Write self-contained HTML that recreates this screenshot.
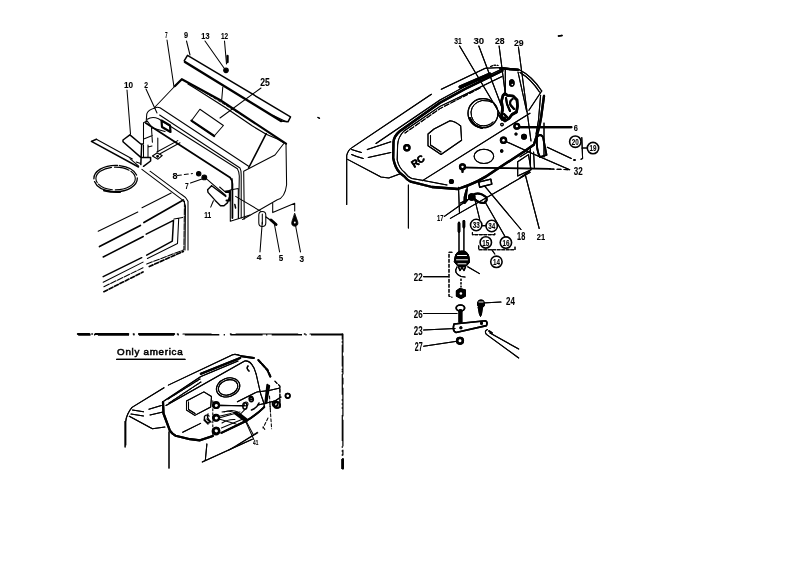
<!DOCTYPE html>
<html><head><meta charset="utf-8">
<style>
html,body{margin:0;padding:0;background:#fff;}
svg{display:block;will-change:transform;}
text{font-family:"Liberation Sans",sans-serif;font-weight:bold;font-size:9.5px;fill:#000;stroke:#000;stroke-width:0.1px;}
</style></head><body>
<svg width="793" height="561" viewBox="0 0 793 561">
<rect width="793" height="561" fill="#fff"/>
<g fill="none" stroke="#000" stroke-width="1.05" stroke-linecap="round" stroke-linejoin="round">
<!-- ===== TOP LEFT ===== -->
<!-- labels leaders -->
<path d="M167,40 L174,87 M186.5,41 L190,55 M205,41 L224,68 M224.5,41 L226.5,64 M127,90 L130.5,134 M146,89 L157,113 M261,88 L220,118 M222.8,87 L221.7,100 M190.5,183 L202,179 M260,252 L262.3,222 M279.6,252 L274,222 M300.5,252 L294.7,221"/>
<path d="M177.4,175.5 L192.4,173.5" stroke-dasharray="4,3"/>
<!-- strip 9 -->
<path d="M184.3,60.7 L187.5,55.3 L290.5,116.8 L288,121.8 L281,121" stroke-width="1.5"/>
<path d="M272.7,115.3 L286.3,121.7"/>
<path d="M185,62 L281,121" stroke-width="2.5"/>
<circle cx="226" cy="70.3" r="2.3" fill="#000"/>
<path d="M227.5,56 L227.5,62" stroke-width="2.4"/>
<!-- cover 7 top -->
<path d="M175,86 L155,107"/>
<path d="M175,86 L181.8,79.2 L220,100 L286,143.7" stroke-width="2.2"/>
<path d="M188,84 L195,88.3 L225.3,107.5 L252.1,125.8 L266.2,134.2 L277.4,139 L284,143" stroke-width="1.2"/>
<path d="M205,92.5 L255,123" stroke-dasharray="3,2" stroke-width="0.9"/>
<path d="M286,143.7 L286.6,184.8 Q285,198 277.3,199.8 L242.6,219.5"/>
<path d="M266.2,133.7 L248.6,168" stroke-width="1.6"/>
<path d="M283.6,143.7 L275,155 L243.7,171.2 L244.3,219"/>
<!-- plate 25 -->
<path d="M199.9,109.3 L191.4,120.7 L214.2,136 L223.4,125.5 Z"/>
<path d="M191.4,120.7 L214.2,136" stroke-width="2.2"/>
<!-- rim lines -->
<path d="M154.8,108 Q157,106.5 160,107.8 L248.6,166.2"/>
<path d="M159.6,115 L240,168 Q241.5,171 241.2,175 L241.2,218"/>
<path d="M147.3,119.3 Q152,116 158.5,118.7 L237.4,168.7 Q239.3,172 239.3,176 L238.5,218"/>
<path d="M145.7,123 L230,177.4 Q232.4,180 232.4,184 L232.4,218" stroke-width="1.8"/>
<!-- dark block -->
<path d="M161.5,120.5 L170,125.5 L170.5,132 L162,127 Z" stroke-width="2.2"/>
<!-- bracket 2/10 -->
<path d="M154.8,108 Q148,110 146.8,113.9 L146.2,121.4"/>
<path d="M143.5,122.7 L147.1,120.9 L152.4,128 L165,131.6 M143.5,122.7 L143.5,144 M151.5,128 L152.4,142.3 M144.4,138.7 L152.4,135.6"/>
<path d="M130.2,134.7 L123,140 L123,141.8 L140.8,157.4 L150.6,157.4 L150.6,161 L143.5,166.3 M130.2,135.2 L140.8,144 L142.6,144 M141.7,144 L140.8,164.6" stroke-width="1.5"/>
<path d="M143.5,145 L143.5,157.4 M148,145 L148,157.4 M157.8,138 L157.8,152 M148,147 L152,146"/>
<path d="M156.9,152 L177.8,140.6 M159.6,154 L180,142.8"/>
<path d="M152.4,156 L157,153 L162.2,155.5 L158,159.2 Z"/>
<circle cx="157.6" cy="156.3" r="0.9" fill="#000"/>
<!-- hood -->
<path d="M96.4,139.3 L132.4,159 M136.2,162 L139.9,163.3"/>
<path d="M91.4,141.4 L96.4,139.3 M91.4,141.4 L138.5,167" stroke-width="1.5"/>
<path d="M130,158.7 L138.7,166.2 M141.9,169.3 L182.4,199.9 Q185,202 185.5,206 L185,250"/>
<path d="M150,171.2 L181.2,194.3 Q186,197 188,201.2 L188,250"/>
<ellipse cx="115.6" cy="178.5" rx="21.7" ry="13.2" stroke-width="1.3" stroke-dasharray="30,2,20,3"/>
<ellipse cx="115.6" cy="178.5" rx="19.7" ry="11.4" stroke-width="1.1" stroke-dasharray="25,3,15,2"/>
<path d="M104,190.5 Q112,192.5 120,192" stroke-width="2"/>
<!-- hood front lines -->
<path d="M98.2,231.3 L137.8,212 M142,207.8 L171.2,193"/>
<path d="M99.5,246.5 L140.4,225.5 M143.9,222.6 L183.3,200" stroke-width="1.7"/>
<path d="M103.2,257 L143.3,236.5 M146.2,234.2 L173.5,220.3 L172.3,241.1 L146.7,255.2 M141.7,257.7 L103.2,276.6" stroke-width="1.5"/>
<path d="M174,219.1 L182.7,217.4 M178.7,218.5 L177.5,243.5 L147.4,258.5 M143,262.1 L103.2,282.3"/>
<path d="M103.9,286.7 L143,267.8 M146.7,264 L183.9,249.8 L184.5,200" stroke-dasharray="6,1.5"/>
<path d="M103.9,291.7 L143,272 M149.3,266.5 L183.3,251.4" stroke-width="1.7" stroke-dasharray="4,2"/>
<!-- nuts 8 7 -->
<circle cx="198.7" cy="173.7" r="2.2" fill="#000"/>
<circle cx="204.3" cy="177.4" r="2.4" fill="#000"/>
<path d="M206.2,178.6 L225.8,195.5 M235.6,196.4 L261,211.4"/>
<!-- part 11 -->
<path d="M211.6,185.7 L207.6,189.7 L208,192.4 L215.2,200.4 L220.5,205.7 L224,205.7 L227.6,202.6 L229.4,197.3 M211.6,185.7 L225.8,196.4" stroke-width="1.4"/>
<path d="M219.6,187 L225.8,192.4 L229.5,192.4"/>
<path d="M225.8,191.5 L229.8,191 L229.8,200.5 L226.5,200.5" stroke-width="2"/>
<path d="M210.7,207.1 L213.4,200.8"/>
<!-- bracket lower -->
<path d="M230.3,190.2 L230.3,221.3 L238.3,218.7 L250,215.1 M238.3,188.5 L238.3,218.7 M232.1,178.6 L232,190 M230,190 L238.3,188.5"/>
<path d="M234.8,204.4 L235.6,208" stroke-width="1.5"/>
<!-- clip 4 -->
<rect x="258.8" y="211.4" width="7" height="15" rx="3.5"/>
<path d="M262.3,214 L262.3,224"/>
<path d="M266,217 L276.5,224.5" stroke-width="1.3"/>
<path d="M271,220 L276,224.5" stroke-width="3"/>
<path d="M294.8,213.5 L297.8,222 Q298.5,226 294.8,226.2 Q291,226 291.8,222 Z" fill="#000" stroke-width="0.8"/>
<circle cx="294.8" cy="222.5" r="0.9" fill="#fff" stroke="none"/>
<path d="M272.7,203.3 L272.7,212.6 L294.7,203.3 L294.7,211"/>
<!-- ===== RIGHT PANEL ===== -->
<path d="M558.5,36 L562,35.5" stroke-width="1.5"/>
<path d="M318,117.5 L319.5,118.3" stroke-width="1.3"/>
<path d="M346.7,204.5 L346.7,155.5 Q348,150 352,147.6 L431.4,94.2 M441.3,89.2 L485.3,68.2 L502.4,67.6 L518.4,69.3 Q532,76 541.7,91"/>
<path d="M500,68.5 L518,69.8" stroke-width="2.2"/>
<path d="M520,72.5 Q531,79 539.5,92" />
<path d="M376,143.5 L440,100 L465,86.4 L502,69"/>
<path d="M490.6,66.5 Q494,64.5 498,65.5" stroke-dasharray="2,1.5"/>
<!-- panel face edge thick -->
<path d="M502.4,70.8 L465,89 L440,102.7 L400,131 Q394,136 393.5,142 L393.2,158 Q395,168 400,173 L404.3,176.4 Q407,180 410.7,181.7 L432,187 L457.8,189 Q478,183 494.6,170.8 L524.9,151 L533.8,144.8 Q539,130 541,118 L544,96" stroke-width="2.3"/>
<path d="M460,87 L490,74" stroke-width="3"/>
<path d="M502,76.5 L465,94.5 L440,106.4 L404,131 Q398,137 397.6,145 L397.2,160 Q399,168 404.3,172.1 Q408,177 411.8,178.5 L423.5,180.6 L447,185" />
<path d="M480,88 L440,108.6 L405,133" stroke-dasharray="5,2"/>
<path d="M422.5,180.6 L530,113.2"/>
<!-- hexagon window -->
<path d="M428,134 L434,129 L450,120.7 Q455,121 460.7,126 L461.6,140.3 L441,154.5 L428,145.7 Z"/>
<path d="M430.5,135.5 L430.5,145 L441,152"/>
<!-- gauge circle -->
<ellipse cx="483" cy="113.2" rx="15" ry="14.5" stroke-width="1.2"/>
<path d="M494,103 Q488,100 482,100.5 Q472,103 471,112 Q471,122 480,125.5 Q488,127 493,122" stroke-width="1"/>
<path d="M470,118 Q473,126 482,128" stroke-width="2"/>
<ellipse cx="483.9" cy="156.3" rx="9.8" ry="7.1"/>
<circle cx="406.9" cy="147.8" r="2.6" stroke-width="2.2"/>
<text x="410" y="165" textLength="14" lengthAdjust="spacingAndGlyphs" transform="rotate(-35 417 160)" style="font-size:10px;stroke-width:0.3px">RC</text>
<!-- studs and nuts -->
<circle cx="462.5" cy="166.8" r="2.5" stroke-width="2.2"/>
<path d="M462.5,169 L462.5,172" stroke-width="2"/>
<path d="M465,167.5 L550,168.8" stroke-width="1.5"/>
<path d="M550,169 L569.7,169.7" stroke-dasharray="4,3"/>
<circle cx="503.5" cy="140.3" r="2.6" stroke-width="2.2"/>
<path d="M506,141.5 L532.8,153.7 L569.7,169.7"/>
<circle cx="501.7" cy="151" r="1.2" fill="#000"/>
<circle cx="524" cy="136.7" r="2.4" fill="#000"/>
<circle cx="516.8" cy="126.3" r="2.4" stroke-width="2.2"/>
<path d="M519,127.2 L571.3,127.2" stroke-width="2.2"/>
<circle cx="516" cy="134" r="1" fill="#000"/>
<circle cx="502" cy="124.6" r="1.3"/>
<circle cx="451.4" cy="181.5" r="2" fill="#000"/>
<!-- socket 28 and plate -->
<path d="M505.3,69.6 L505.3,92 M518,72 L526.7,111.3"/>
<ellipse cx="511.8" cy="83" rx="2.3" ry="3.2" fill="#000"/>
<circle cx="512.3" cy="84.5" r="0.8" fill="#fff" stroke="none"/>
<path d="M503,95.5 L505,93.5 L507.5,95.5 L513,96 L517,100 L517.5,106 L516.5,112 L512,114.5 L509,118.5 L505,121 L501.5,118 L502.5,108 L501.5,101 Z" stroke-width="2.6"/>
<path d="M512.5,99 Q509,101 510.5,105 L514,109 M506,98 L507,104 L510,111 M504,114 L507,117" stroke-width="2"/>
<circle cx="504" cy="118.5" r="1.5" fill="#000"/>
<path d="M498,114 L502,120" stroke-width="1.5"/>
<!-- right side -->
<path d="M541.7,91 L528.9,110.3 M540.6,95.3 L538.5,120 L536,134 M544,123 L544,157"/>
<path d="M537,137 Q540,133 543,137 L546.5,155 L540,157 Q536,150 537,137 Z" stroke-width="1.8"/>
<path d="M530.4,147.3 L530.4,168.1 M533.6,152 L534.4,168"/>
<path d="M547.3,147.3 L571.3,158.5"/>
<rect x="573.5" y="159" width="2" height="2" fill="#000" stroke="none"/>
<path d="M520,156.9 L529.6,151 M520,177.8 L529.6,171.3"/>
<path d="M517.7,161.7 L528.4,154.6 L531.1,169.7 L517.7,176 Z"/>
<path d="M450.4,218.4 L530.2,172.4"/>
<!-- part 17/18/33 -->
<path d="M458.5,187.2 L459.5,213.4"/>
<path d="M461,188 L467.4,185.3 L466,200.4 L460.5,203" stroke-width="1.2"/>
<path d="M466.5,190 Q464,197 464.5,203 L467,200" stroke-width="2"/>
<circle cx="471.8" cy="197" r="3.2" fill="#000"/>
<path d="M474.5,194 Q480,192 486,197 Q488,201 484,203 Q478,203 474.5,199" stroke-width="2"/>
<path d="M478.7,182.1 L490.8,179.1 L491.8,184.1 L479.7,187.2 Z" stroke-width="1.4"/>
<path d="M408.4,184.9 L408.4,228"/>
<!-- lips left -->
<path d="M351.6,149.6 Q356,151 361.4,152.5 M367.3,149.6 L390.8,141.8 M351.6,154.5 Q357,157 363.3,158.4 M368.2,157.5 L390.8,152.5 M347.6,159.4 L381,177 L388.8,178 L399.6,174.1"/>
<!-- leaders -->
<path d="M459.6,46 L502.4,118 M478.8,46 L503.2,110.7 M499.1,46 L505.3,93.6 M518.4,47 L531,141"/>
<path d="M444.4,216.4 L468.6,199.3 M521,229.5 L484.7,186.1 M539.2,228.5 L525.1,174 M479.7,219.4 L474.7,199 M505,236.6 L484.7,201.3"/>
<path d="M581.8,137.6 L582.6,158.5 L581,159.3 M581.8,148 L587,148"/>
<path d="M472.4,232.5 L472.4,234.6 L494.8,234.6 L494.8,233 M478.7,245.7 L478.7,249.7 L515,249.7 L515,247" stroke-dasharray="3,1.5"/>
<path d="M491.8,249.7 L494.8,254"/>
<!-- stud 22 -->
<path d="M459,222 L459,252.8 M463.9,222 L463.9,252.8"/>
<path d="M459,223.4 L459,231.4 M463.9,221.2 L463.9,227.1" stroke-width="2.6"/>
<path d="M455,257 Q456,251 462,251 Q468,251 469,257 L469.5,262 Q467,267 462,267 Q457,267 454.5,262 Z" fill="#000" stroke-width="1"/>
<path d="M457.5,255.5 L466.5,255.5 M456.5,259.8 L467.5,259.8 M458,263.8 L466,263.8" stroke="#fff" stroke-width="1"/>
<path d="M458.5,267 L460,270.5 L462,267.5 L464,270.5 L465.5,267" stroke-width="1.3"/>
<path d="M482,225.6 L485.8,225.6" stroke-width="1.3"/>
<path d="M467.7,266.8 L479.5,273.6"/>
<path d="M457,267 Q453,273 461,276.5 L465,277" stroke-width="1.2"/>
<path d="M461,279 L461,287" stroke-dasharray="1.5,2"/>
<path d="M452,252.2 L449,252.2 L449,296.2 L452,297.2" stroke-dasharray="3,2"/>
<path d="M423.6,276.6 L448.1,276.6 M423.6,313.4 L457,313.4 M423.6,330 L455,328.5 M423.6,346.2 L457,341.3 M482.5,303 L501,302"/>
<path d="M456.4,291 L460,288.5 L465.4,290 L465.4,296 L461,298.5 L456.4,296 Z" fill="#000"/>
<circle cx="460.9" cy="293.5" r="1.3" fill="#fff" stroke="none"/>
<ellipse cx="460.4" cy="308" rx="4.2" ry="3" stroke-width="1.6"/>
<path d="M460.4,311 L460.4,321.7" stroke-width="4"/>
<path d="M454,324 L485.4,320.7 Q488,322 486.4,325.6 L456,332.5 Q452,331 454,324 Z" stroke-width="1.6"/>
<circle cx="460.9" cy="327.8" r="1" fill="#000"/>
<circle cx="481.5" cy="323.2" r="1" fill="#000"/>
<ellipse cx="481" cy="303.8" rx="3.5" ry="3.8" fill="#000"/>
<path d="M479,302 L483,302" stroke="#fff" stroke-width="0.9"/>
<path d="M478.5,307 L482.5,307 L481.5,314 L480.5,316.5 L479.5,314 Z" fill="#000" stroke-width="1"/>
<circle cx="460" cy="340.8" r="2.9" stroke-width="2.4"/>
<path d="M487.4,329.5 Q484,331 486.4,334.4 L518.7,358 M490,333 L518.7,349" />
<path d="M489,331 L492,333" stroke-width="1.6"/>
<!-- ===== BOTTOM LEFT ===== -->
<path d="M78.2,334.8 L90.5,334.8 M97.9,334.8 L129,334.8 M138.9,334.8 L174.1,334.8" stroke-width="1.7" stroke-linecap="butt"/>
<path d="M184.8,334.8 L219.3,334.8 M230.4,334.8 L262.6,334.8 M271.7,334.8 L302,334.8 M311,334.8 L342.3,334.8" stroke-width="1.4" stroke-linecap="butt"/>
<path d="M94.0,334.8 L95.19999999999999,334.8 M133.3,334.8 L134.5,334.8 M177.6,334.8 L178.79999999999998,334.8 M223.70000000000002,334.8 L224.9,334.8 M266.09999999999997,334.8 L267.3,334.8 M305.4,334.8 L306.6,334.8" stroke-width="1.5" stroke-linecap="butt"/>
<path d="M342.3,333.6 L342.3,339.5 M342.3,344.7 L342.3,366.5 M342.3,374 L342.3,394.7 M342.3,415 L342.3,441" stroke-width="1.2" stroke-linecap="butt"/>
<path d="M342.3,341.3 L342.3,342.7 M342.3,368.8 L342.3,370.2 M342.3,370.8 L342.3,372.2 M342.3,399.3 L342.3,400.7 M342.3,403.3 L342.3,404.7 M342.3,407.3 L342.3,408.7 M342.3,446.3 L342.3,447.7 M342.3,450.3 L342.3,451.7 M342.3,454.3 L342.3,455.7" stroke-width="1.3" stroke-linecap="butt"/>
<path d="M342.3,459 L342.3,469" stroke-width="2.2" stroke-linecap="butt"/>
<path d="M116.7,359.3 L185,359.3" stroke-width="1.3"/>
<!-- mini housing -->
<path d="M125.7,445 L125.7,421.6 Q126.5,414 132,407.4 L164,387.8 M168.3,385.1 L232.6,354.8 Q236,353.5 241.7,356.3"/>
<path d="M241.7,356.3 L253.8,357.9" stroke-width="2"/>
<path d="M258.4,360.1 L267.4,370 L270.5,376.8" stroke-width="2" stroke-dasharray="4,1.5"/>
<path d="M132.5,410 L143.5,411.8 M148.9,409.2 L161.3,405.6 M131,414 L143.5,416 M150,415 L163,412"/>
<path d="M129.3,416.3 L152.4,428.8 L164.9,427"/>
<path d="M169,431.8 L169,468.1 M125.1,421.2 L125.1,446.9"/>
<path d="M206.9,443.9 L205.3,460.5 L202.3,462 L252.3,439.3"/>
<!-- rim band -->
<path d="M200.9,373.8 L240.2,357.9" stroke-width="2.2"/>
<path d="M164,401 L200.9,376.5 L238,361" />
<path d="M168,399 L200,379" stroke-dasharray="2,1"/>
<path d="M169.1,403 L200.9,382" stroke-dasharray="3,1"/>
<path d="M166,405.5 L244.7,361 Q250,360 254,368 Q256.5,374 257.5,380 L260.6,393.7"/>
<path d="M248,366 Q246,368.5 249,371" stroke-width="1.3"/>
<!-- face edge -->
<path d="M163,402 L163.5,413.5 L169.9,430.7 Q172,434 175.6,435.7 L190,439.2 L200,440.3 L212.8,436" stroke-width="2.2"/>
<path d="M221.4,432.8 L246,421 Q255,416 264.2,407.1" stroke-width="2"/>
<path d="M260.6,393.7 L263.5,402 Q264.5,405 264.2,407.1"/>
<path d="M274.9,381.2 L279.9,386.2 L279.9,407.4" stroke-dasharray="3,2"/>
<path d="M182.7,432.3 L200.6,423.4 M237.4,401.8 L256.7,392.1 L269,390.4 L280,388"/>
<!-- hexagon -->
<path d="M186.5,401 L203.9,391.9 L211.5,396.5 L210.7,407 L194.8,415.4 L186.5,410.1 Z"/>
<path d="M188.5,402 L188.5,409.5 L195,413.5"/>
<ellipse cx="228.1" cy="387.4" rx="12" ry="9.2" transform="rotate(-20 228.1 387.4)"/>
<ellipse cx="228.1" cy="387.4" rx="10" ry="7.4" transform="rotate(-20 228.1 387.4)"/>
<!-- studs -->
<circle cx="216" cy="405" r="3" stroke-width="2"/>
<circle cx="216" cy="417.8" r="3" stroke-width="2"/>
<circle cx="216" cy="431.2" r="3.2" stroke-width="2.4"/>
<path d="M212.8,400.7 L212.8,435" stroke-dasharray="2,2"/>
<path d="M219,405 L243.9,406 M219.3,416.2 L231,413.5 M221.4,428 L243,419 M222,423 Q228,419 235,419.5 M224,412 Q232,409 238,412"/>
<ellipse cx="244.9" cy="406" rx="2.1" ry="3.2" stroke-width="1.5"/>
<path d="M245,409.3 L240,414.5"/>
<path d="M235.3,413 L246,421" stroke-width="3.4"/>
<path d="M246,421 L253.5,434.9"/>
<path d="M228.9,450 L257.8,432.8"/>
<path d="M267.5,385 L265.5,403" stroke-width="2.4"/>
<circle cx="277" cy="405" r="3" stroke-width="2"/>
<circle cx="287.7" cy="395.8" r="2.3" stroke-width="1.6"/>
<circle cx="251.3" cy="399.6" r="2" stroke-width="1.6"/>
<path d="M269.5,396 L270.5,412 M268,418 L263,428" stroke-dasharray="3,2"/>
<path d="M209,423 Q203.5,421 204.5,416.5 Q206,414 209,416 M207,419 L210,422" stroke-width="1.4"/>
<path d="M258,405 L275,401 L281,397" />
<path d="M251.5,410 Q257,408 259,403" stroke-width="1.6"/>
<!-- ===== RIGHT PANEL ===== -->
<path d="M558.5,36 L562,35.5" stroke-width="1.5"/>
<path d="M318,117.5 L319.5,118.3" stroke-width="1.3"/>
<path d="M346.7,204.5 L346.7,155.5 Q348,150 352,147.6 L431.4,94.2 M441.3,89.2 L485.3,68.2 L502.4,67.6 L518.4,69.3 Q532,76 541.7,91"/>
<path d="M500,68.5 L518,69.8" stroke-width="2.2"/>
<path d="M520,72.5 Q531,79 539.5,92" />
<path d="M376,143.5 L440,100 L465,86.4 L502,69"/>
<path d="M490.6,66.5 Q494,64.5 498,65.5" stroke-dasharray="2,1.5"/>
<!-- panel face edge thick -->
<path d="M502.4,70.8 L465,89 L440,102.7 L400,131 Q394,136 393.5,142 L393.2,158 Q395,168 400,173 L404.3,176.4 Q407,180 410.7,181.7 L432,187 L457.8,189 Q478,183 494.6,170.8 L524.9,151 L533.8,144.8 Q539,130 541,118 L544,96" stroke-width="2.3"/>
<path d="M460,87 L490,74" stroke-width="3"/>
<path d="M502,76.5 L465,94.5 L440,106.4 L404,131 Q398,137 397.6,145 L397.2,160 Q399,168 404.3,172.1 Q408,177 411.8,178.5 L423.5,180.6 L447,185" />
<path d="M480,88 L440,108.6 L405,133" stroke-dasharray="5,2"/>
<path d="M422.5,180.6 L530,113.2"/>
<!-- hexagon window -->
<path d="M428,134 L434,129 L450,120.7 Q455,121 460.7,126 L461.6,140.3 L441,154.5 L428,145.7 Z"/>
<path d="M430.5,135.5 L430.5,145 L441,152"/>
<!-- gauge circle -->
<ellipse cx="483" cy="113.2" rx="15" ry="14.5" stroke-width="1.2"/>
<path d="M494,103 Q488,100 482,100.5 Q472,103 471,112 Q471,122 480,125.5 Q488,127 493,122" stroke-width="1"/>
<path d="M470,118 Q473,126 482,128" stroke-width="2"/>
<ellipse cx="483.9" cy="156.3" rx="9.8" ry="7.1"/>
<circle cx="406.9" cy="147.8" r="2.6" stroke-width="2.2"/>
<text x="410" y="165" textLength="14" lengthAdjust="spacingAndGlyphs" transform="rotate(-35 417 160)" style="font-size:10px;stroke-width:0.3px">RC</text>
<!-- studs and nuts -->
<circle cx="462.5" cy="166.8" r="2.5" stroke-width="2.2"/>
<path d="M462.5,169 L462.5,172" stroke-width="2"/>
<path d="M465,167.5 L550,168.8" stroke-width="1.5"/>
<path d="M550,169 L569.7,169.7" stroke-dasharray="4,3"/>
<circle cx="503.5" cy="140.3" r="2.6" stroke-width="2.2"/>
<path d="M506,141.5 L532.8,153.7 L569.7,169.7"/>
<circle cx="501.7" cy="151" r="1.2" fill="#000"/>
<circle cx="524" cy="136.7" r="2.4" fill="#000"/>
<circle cx="516.8" cy="126.3" r="2.4" stroke-width="2.2"/>
<path d="M519,127.2 L571.3,127.2" stroke-width="2.2"/>
<circle cx="516" cy="134" r="1" fill="#000"/>
<circle cx="502" cy="124.6" r="1.3"/>
<circle cx="451.4" cy="181.5" r="2" fill="#000"/>
<!-- socket 28 and plate -->
<path d="M505.3,69.6 L505.3,92 M518,72 L526.7,111.3"/>
<ellipse cx="511.8" cy="83" rx="2.3" ry="3.2" fill="#000"/>
<circle cx="512.3" cy="84.5" r="0.8" fill="#fff" stroke="none"/>
<path d="M503,95.5 L505,93.5 L507.5,95.5 L513,96 L517,100 L517.5,106 L516.5,112 L512,114.5 L509,118.5 L505,121 L501.5,118 L502.5,108 L501.5,101 Z" stroke-width="2.6"/>
<path d="M512.5,99 Q509,101 510.5,105 L514,109 M506,98 L507,104 L510,111 M504,114 L507,117" stroke-width="2"/>
<circle cx="504" cy="118.5" r="1.5" fill="#000"/>
<path d="M498,114 L502,120" stroke-width="1.5"/>
<!-- right side -->
<path d="M541.7,91 L528.9,110.3 M540.6,95.3 L538.5,120 L536,134 M544,123 L544,157"/>
<path d="M537,137 Q540,133 543,137 L546.5,155 L540,157 Q536,150 537,137 Z" stroke-width="1.8"/>
<path d="M530.4,147.3 L530.4,168.1 M533.6,152 L534.4,168"/>
<path d="M547.3,147.3 L571.3,158.5"/>
<rect x="573.5" y="159" width="2" height="2" fill="#000" stroke="none"/>
<path d="M520,156.9 L529.6,151 M520,177.8 L529.6,171.3"/>
<path d="M517.7,161.7 L528.4,154.6 L531.1,169.7 L517.7,176 Z"/>
<path d="M450.4,218.4 L530.2,172.4"/>
<!-- part 17/18/33 -->
<path d="M458.5,187.2 L459.5,213.4"/>
<path d="M461,188 L467.4,185.3 L466,200.4 L460.5,203" stroke-width="1.2"/>
<path d="M466.5,190 Q464,197 464.5,203 L467,200" stroke-width="2"/>
<circle cx="471.8" cy="197" r="3.2" fill="#000"/>
<path d="M474.5,194 Q480,192 486,197 Q488,201 484,203 Q478,203 474.5,199" stroke-width="2"/>
<path d="M478.7,182.1 L490.8,179.1 L491.8,184.1 L479.7,187.2 Z" stroke-width="1.4"/>
<path d="M408.4,184.9 L408.4,228"/>
<!-- lips left -->
<path d="M351.6,149.6 Q356,151 361.4,152.5 M367.3,149.6 L390.8,141.8 M351.6,154.5 Q357,157 363.3,158.4 M368.2,157.5 L390.8,152.5 M347.6,159.4 L381,177 L388.8,178 L399.6,174.1"/>
<!-- leaders -->
<path d="M459.6,46 L502.4,118 M478.8,46 L503.2,110.7 M499.1,46 L505.3,93.6 M518.4,47 L531,141"/>
<path d="M444.4,216.4 L468.6,199.3 M521,229.5 L484.7,186.1 M539.2,228.5 L525.1,174 M479.7,219.4 L474.7,199 M505,236.6 L484.7,201.3"/>
<path d="M581.8,137.6 L582.6,158.5 L581,159.3 M581.8,148 L587,148"/>
<path d="M472.4,232.5 L472.4,234.6 L494.8,234.6 L494.8,233 M478.7,245.7 L478.7,249.7 L515,249.7 L515,247" stroke-dasharray="3,1.5"/>
<path d="M491.8,249.7 L494.8,254"/>
<!-- stud 22 -->
<path d="M459,222 L459,252.8 M463.9,222 L463.9,252.8"/>
<path d="M459,223.4 L459,231.4 M463.9,221.2 L463.9,227.1" stroke-width="2.6"/>
<path d="M455,257 Q456,251 462,251 Q468,251 469,257 L469.5,262 Q467,267 462,267 Q457,267 454.5,262 Z" fill="#000" stroke-width="1"/>
<path d="M457.5,255.5 L466.5,255.5 M456.5,259.8 L467.5,259.8 M458,263.8 L466,263.8" stroke="#fff" stroke-width="1"/>
<path d="M458.5,267 L460,270.5 L462,267.5 L464,270.5 L465.5,267" stroke-width="1.3"/>
<path d="M482,225.6 L485.8,225.6" stroke-width="1.3"/>
<path d="M467.7,266.8 L479.5,273.6"/>
<path d="M457,267 Q453,273 461,276.5 L465,277" stroke-width="1.2"/>
<path d="M461,279 L461,287" stroke-dasharray="1.5,2"/>
<path d="M452,252.2 L449,252.2 L449,296.2 L452,297.2" stroke-dasharray="3,2"/>
<path d="M423.6,276.6 L448.1,276.6 M423.6,313.4 L457,313.4 M423.6,330 L455,328.5 M423.6,346.2 L457,341.3 M482.5,303 L501,302"/>
<path d="M456.4,291 L460,288.5 L465.4,290 L465.4,296 L461,298.5 L456.4,296 Z" fill="#000"/>
<circle cx="460.9" cy="293.5" r="1.3" fill="#fff" stroke="none"/>
<ellipse cx="460.4" cy="308" rx="4.2" ry="3" stroke-width="1.6"/>
<path d="M460.4,311 L460.4,321.7" stroke-width="4"/>
<path d="M454,324 L485.4,320.7 Q488,322 486.4,325.6 L456,332.5 Q452,331 454,324 Z" stroke-width="1.6"/>
<circle cx="460.9" cy="327.8" r="1" fill="#000"/>
<circle cx="481.5" cy="323.2" r="1" fill="#000"/>
<ellipse cx="481" cy="303.8" rx="3.5" ry="3.8" fill="#000"/>
<path d="M479,302 L483,302" stroke="#fff" stroke-width="0.9"/>
<path d="M478.5,307 L482.5,307 L481.5,314 L480.5,316.5 L479.5,314 Z" fill="#000" stroke-width="1"/>
<circle cx="460" cy="340.8" r="2.9" stroke-width="2.4"/>
<path d="M487.4,329.5 Q484,331 486.4,334.4 L518.7,358 M490,333 L518.7,349" />
<path d="M489,331 L492,333" stroke-width="1.6"/>
<!-- ===== BOTTOM LEFT ===== -->
<path d="M77.8,334 L89.4,334 M95.4,334 L128.3,334 M138.9,334 L174.2,334" stroke-width="2"/>
<path d="M91.9,334 L92.4,334 M133.4,334 L134,334 M177.5,334 L178,334 M230.5,334 L231,334 M304.5,334 L305,334" stroke-width="1.6"/>
<path d="M183,334 L211.2,334 M236,334 L297.8,334 M310,334 L342.9,334 L342.9,352 M342.9,356 L342.9,374 M342.9,378 L342.9,384 M342.9,388 L342.9,416 M342.9,420 L342.9,446 M342.9,450 L342.9,455" stroke-width="1.2"/>
<path d="M342.9,459 L342.9,468.6" stroke-width="2.2"/>
<path d="M116.7,359.3 L185,359.3" stroke-width="1.3"/>
<!-- mini housing -->
<path d="M125.7,445 L125.7,421.6 Q126.5,414 132,407.4 L164,387.8 M168.3,385.1 L232.6,354.8 Q236,353.5 241.7,356.3"/>
<path d="M241.7,356.3 L253.8,357.9" stroke-width="2"/>
<path d="M258.4,360.1 L267.4,370 L270.5,376.8" stroke-width="2" stroke-dasharray="4,1.5"/>
<path d="M132.5,410 L143.5,411.8 M148.9,409.2 L161.3,405.6 M131,414 L143.5,416 M150,415 L163,412"/>
<path d="M129.3,416.3 L152.4,428.8 L164.9,427"/>
<path d="M169,431.8 L169,468.1 M125.1,421.2 L125.1,446.9"/>
<path d="M206.9,443.9 L205.3,460.5 L202.3,462 L252.3,439.3"/>
<!-- rim band -->
<path d="M200.9,373.8 L240.2,357.9" stroke-width="2.2"/>
<path d="M164,401 L200.9,376.5 L238,361" />
<path d="M168,399 L200,379" stroke-dasharray="2,1"/>
<path d="M169.1,403 L200.9,382" stroke-dasharray="3,1"/>
<path d="M166,405.5 L244.7,361 Q250,360 254,368 Q256.5,374 257.5,380 L260.6,393.7"/>
<path d="M248,366 Q246,368.5 249,371" stroke-width="1.3"/>
<!-- face edge -->
<path d="M163,402 L163.5,413.5 L169.9,430.7 Q172,434 175.6,435.7 L190,439.2 L200,440.3 L212.8,436" stroke-width="2.2"/>
<path d="M221.4,432.8 L246,421 Q255,416 264.2,407.1" stroke-width="2"/>
<path d="M260.6,393.7 L263.5,402 Q264.5,405 264.2,407.1"/>
<path d="M274.9,381.2 L279.9,386.2 L279.9,407.4" stroke-dasharray="3,2"/>
<path d="M182.7,432.3 L200.6,423.4 M237.4,401.8 L256.7,392.1 L269,390.4 L280,388"/>
<!-- hexagon -->
<path d="M186.5,401 L203.9,391.9 L211.5,396.5 L210.7,407 L194.8,415.4 L186.5,410.1 Z"/>
<path d="M188.5,402 L188.5,409.5 L195,413.5"/>
<ellipse cx="228.1" cy="387.4" rx="12" ry="9.2" transform="rotate(-20 228.1 387.4)"/>
<ellipse cx="228.1" cy="387.4" rx="10" ry="7.4" transform="rotate(-20 228.1 387.4)"/>
<!-- studs -->
<circle cx="216.4" cy="405.6" r="2.6" stroke-width="1.8"/>
<circle cx="216.4" cy="418.1" r="2.6" stroke-width="1.8"/>
<circle cx="216.4" cy="430.6" r="2.8" stroke-width="2"/>
<path d="M219,405.6 L244.9,405.6 M219,418 L240,412 M219,419 L236,424 M222,412 Q232,410 236,414"/>
<circle cx="246" cy="404" r="2" />
<path d="M239.6,414.5 L246.7,419.9" stroke-width="3"/>
<path d="M244.9,419.9 L253.8,439.5"/>
<path d="M269,386 L266.3,402" stroke-width="2.4"/>
<circle cx="275.2" cy="403.8" r="2.6" stroke-width="1.8"/>
<circle cx="287.7" cy="395.8" r="2.2" stroke-width="1.5"/>
<circle cx="251" cy="398" r="1.8" stroke-width="1.4"/>
<path d="M269.9,403.8 L271.6,428.8 M263,427 L266,431" stroke-dasharray="3,2"/>
<path d="M211,422 Q206,418 208,414 M204,420 L208,424" stroke-width="1.4"/>
<path d="M258,405 L275,401 L281,397" />
<path d="M237.8,445 L257.4,432.3"/>
</g>
<g>
<text x="165" y="38" textLength="2.6" lengthAdjust="spacingAndGlyphs" style="font-size:8.2px">7</text>
<text x="184.1" y="38.4" textLength="4.1" lengthAdjust="spacingAndGlyphs" style="font-size:8.2px">9</text>
<text x="201.3" y="38.7" textLength="8.2" lengthAdjust="spacingAndGlyphs" style="font-size:9.2px">13</text>
<text x="220.9" y="39.4" textLength="7.2" lengthAdjust="spacingAndGlyphs" style="font-size:8.9px">12</text>
<text x="123.9" y="87.7" textLength="9.1" lengthAdjust="spacingAndGlyphs" style="font-size:8.2px">10</text>
<text x="144.2" y="87.7" textLength="3.8" lengthAdjust="spacingAndGlyphs" style="font-size:8.2px">2</text>
<text x="260.2" y="85.8" textLength="9.6" lengthAdjust="spacingAndGlyphs" style="font-size:10.6px">25</text>
<text x="172.4" y="179.3" textLength="5.0" lengthAdjust="spacingAndGlyphs" style="font-size:8.8px">8</text>
<text x="184.9" y="189.3" textLength="3.7" lengthAdjust="spacingAndGlyphs" style="font-size:8.8px">7</text>
<text x="204.3" y="218.4" textLength="7.0" lengthAdjust="spacingAndGlyphs" style="font-size:9.7px">11</text>
<text x="256.8" y="260.1" textLength="4.6" lengthAdjust="spacingAndGlyphs" style="font-size:7.9px">4</text>
<text x="278.8" y="260.9" textLength="4.5" lengthAdjust="spacingAndGlyphs" style="font-size:9.6px">5</text>
<text x="299.6" y="261.6" textLength="4.6" lengthAdjust="spacingAndGlyphs" style="font-size:9.4px">3</text>
<text x="454.2" y="43.7" textLength="7.5" lengthAdjust="spacingAndGlyphs" style="font-size:9.0px">31</text>
<text x="473.5" y="43.7" textLength="10.7" lengthAdjust="spacingAndGlyphs" style="font-size:9.0px">30</text>
<text x="494.9" y="43.7" textLength="9.6" lengthAdjust="spacingAndGlyphs" style="font-size:9.0px">28</text>
<text x="514" y="46" textLength="9.7" lengthAdjust="spacingAndGlyphs" style="font-size:8.9px">29</text>
<text x="573.7" y="131.2" textLength="4.1" lengthAdjust="spacingAndGlyphs" style="font-size:8.9px">6</text>
<text x="573.7" y="175.3" textLength="8.9" lengthAdjust="spacingAndGlyphs" style="font-size:10.0px">32</text>
<text x="437.1" y="220.7" textLength="6.5" lengthAdjust="spacingAndGlyphs" style="font-size:8.9px">17</text>
<text x="517.1" y="239.6" textLength="8.1" lengthAdjust="spacingAndGlyphs" style="font-size:10.6px">18</text>
<text x="536.8" y="239.9" textLength="8.3" lengthAdjust="spacingAndGlyphs" style="font-size:9.9px">21</text>
<text x="413.8" y="280.5" textLength="8.8" lengthAdjust="spacingAndGlyphs" style="font-size:11.0px">22</text>
<text x="413.8" y="317.7" textLength="8.8" lengthAdjust="spacingAndGlyphs" style="font-size:10.7px">26</text>
<text x="413.8" y="335.4" textLength="8.8" lengthAdjust="spacingAndGlyphs" style="font-size:12.2px">23</text>
<text x="414.8" y="351" textLength="7.8" lengthAdjust="spacingAndGlyphs" style="font-size:12.1px">27</text>
<text x="506" y="305" textLength="8.8" lengthAdjust="spacingAndGlyphs" style="font-size:10.8px">24</text>
<text x="253" y="445" textLength="5.3" lengthAdjust="spacingAndGlyphs" style="font-size:7.6px">41</text>
<circle cx="575.3" cy="141.7" r="5.7" fill="none" stroke="#000" stroke-width="1.6"/><text x="571.8" y="144.89999999999998" textLength="7" lengthAdjust="spacingAndGlyphs" style="font-size:9px">20</text>
<circle cx="593" cy="148.1" r="5.7" fill="none" stroke="#000" stroke-width="1.6"/><text x="589.5" y="151.29999999999998" textLength="7" lengthAdjust="spacingAndGlyphs" style="font-size:9px">19</text>
<circle cx="476.2" cy="225" r="5.7" fill="none" stroke="#000" stroke-width="1.6"/><text x="472.7" y="228.2" textLength="7" lengthAdjust="spacingAndGlyphs" style="font-size:9px">33</text>
<circle cx="491.7" cy="226" r="5.7" fill="none" stroke="#000" stroke-width="1.6"/><text x="488.2" y="229.2" textLength="7" lengthAdjust="spacingAndGlyphs" style="font-size:9px">34</text>
<circle cx="485.8" cy="242.4" r="5.7" fill="none" stroke="#000" stroke-width="1.6"/><text x="482.3" y="245.6" textLength="7" lengthAdjust="spacingAndGlyphs" style="font-size:9px">15</text>
<circle cx="505.9" cy="242.6" r="5.7" fill="none" stroke="#000" stroke-width="1.6"/><text x="502.4" y="245.79999999999998" textLength="7" lengthAdjust="spacingAndGlyphs" style="font-size:9px">16</text>
<circle cx="496.4" cy="261.8" r="5.7" fill="none" stroke="#000" stroke-width="1.6"/><text x="492.9" y="265.0" textLength="7" lengthAdjust="spacingAndGlyphs" style="font-size:9px">14</text>
<text x="117.1" y="354.8" textLength="65.5" lengthAdjust="spacing" style="font-size:9.8px;font-weight:normal;stroke-width:0.55px">Only america</text>
</g>
</svg>
</body></html>
